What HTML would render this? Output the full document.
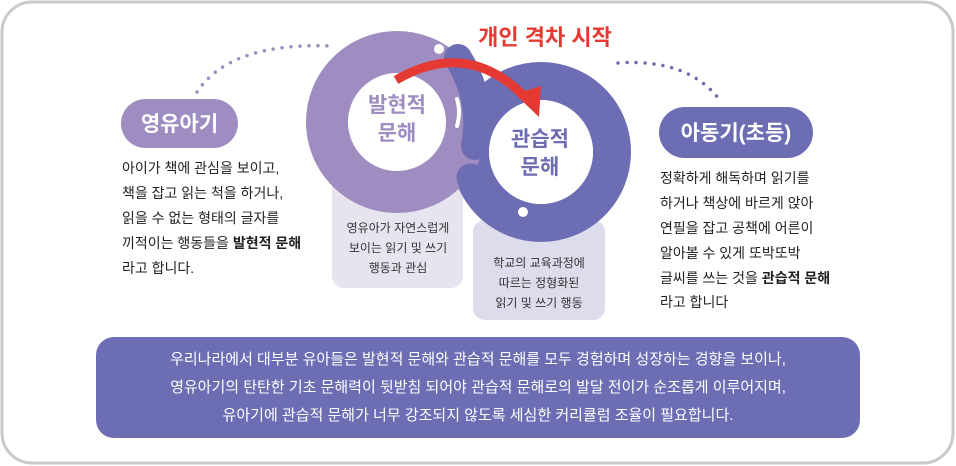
<!DOCTYPE html>
<html><head><meta charset="utf-8"><style>
body{margin:0;background:#fff;}
svg{display:block;font-family:"Liberation Sans","Noto Sans CJK KR",sans-serif;}
</style></head><body>
<svg width="956" height="466" viewBox="0 0 956 466">
<rect x="2" y="2" width="951" height="461" rx="30" fill="#fff" stroke="#c9c9c9" stroke-width="3"/>
<path d="M197 92 Q 230 42 332 46" fill="none" stroke="#9f8cc0" stroke-width="3.5" stroke-linecap="round" stroke-dasharray="0 9"/>
<path d="M618 63 Q 690 58 722 103" fill="none" stroke="#6d6db4" stroke-width="3.5" stroke-linecap="round" stroke-dasharray="0 9"/>
<rect x="332" y="170" width="131" height="118" rx="12" fill="#e7e3ef"/>
<rect x="473" y="220" width="132" height="100" rx="12" fill="#dcdcec"/>
<circle cx="541" cy="152" r="71" fill="#fff" stroke="#6d6db4" stroke-width="38"/>
<circle cx="397" cy="122" r="70" fill="#fff" stroke="#9f8cc0" stroke-width="42"/>
<path d="M458 58 Q 484 100 475 146" fill="none" stroke="#6d6db4" stroke-width="28" stroke-linecap="round"/>
<path d="M470.5 177.5 A 75 75 0 0 0 503.5 217" fill="none" stroke="#6d6db4" stroke-width="28" stroke-linecap="round"/>
<circle cx="541" cy="152" r="52" fill="#fff"/>
<circle cx="439" cy="49" r="5" fill="#fff"/>
<circle cx="523" cy="212" r="5" fill="#fff"/>
<path d="M457 99 Q 461 112 457 126" fill="none" stroke="#fff" stroke-width="4" stroke-linecap="round"/>
<path d="M396 80 Q 468 38 526 98" fill="none" stroke="#e53a33" stroke-width="9"/>
<polygon points="515,94 541,86 539,117" fill="#e53a33"/>
<text x="545" y="45" font-size="22" font-weight="bold" fill="#e53a33" text-anchor="middle">개인 격차 시작</text>
<g font-size="21" font-weight="bold" text-anchor="middle">
<text x="397" y="112" fill="#9f8cc0">발현적</text>
<text x="397" y="140" fill="#9f8cc0">문해</text>
<text x="540" y="146" fill="#6d6db4">관습적</text>
<text x="540" y="174" fill="#6d6db4">문해</text>
</g>
<g font-size="12" fill="#333" text-anchor="middle">
<text x="398" y="232">영유아가 자연스럽게</text>
<text x="398" y="252">보이는 읽기 및 쓰기</text>
<text x="398" y="272">행동과 관심</text>
<text x="539" y="267">학교의 교육과정에</text>
<text x="539" y="287">따르는 정형화된</text>
<text x="539" y="307">읽기 및 쓰기 행동</text>
</g>
<rect x="121" y="99" width="117" height="49" rx="24.5" fill="#9f8cc0"/>
<text x="179.5" y="131" font-size="21" font-weight="bold" fill="#fff" text-anchor="middle">영유아기</text>
<rect x="659" y="107" width="154" height="51" rx="25.5" fill="#6d6db4"/>
<text x="736" y="140" font-size="21" font-weight="bold" fill="#fff" text-anchor="middle">아동기(초등)</text>
<g font-size="14" fill="#222">
<text x="122" y="173">아이가 책에 관심을 보이고,</text>
<text x="122" y="198">책을 잡고 읽는 척을 하거나,</text>
<text x="122" y="223">읽을 수 없는 형태의 글자를</text>
<text x="122" y="248">끼적이는 행동들을 <tspan font-weight="bold">발현적 문해</tspan></text>
<text x="122" y="273">라고 합니다.</text>
<text x="660" y="183">정확하게 해독하며 읽기를</text>
<text x="660" y="208">하거나 책상에 바르게 앉아</text>
<text x="660" y="233">연필을 잡고 공책에 어른이</text>
<text x="660" y="258">알아볼 수 있게 또박또박</text>
<text x="660" y="283">글씨를 쓰는 것을 <tspan font-weight="bold">관습적 문해</tspan></text>
<text x="660" y="307">라고 합니다</text>
</g>
<rect x="96" y="337" width="764" height="101" rx="18" fill="#6d6db4"/>
<g font-size="15" fill="#fff" text-anchor="middle">
<text x="478" y="364">우리나라에서 대부분 유아들은 발현적 문해와 관습적 문해를 모두 경험하며 성장하는 경향을 보이나,</text>
<text x="478" y="392">영유아기의 탄탄한 기초 문해력이 뒷받침 되어야 관습적 문해로의 발달 전이가 순조롭게 이루어지며,</text>
<text x="478" y="420">유아기에 관습적 문해가 너무 강조되지 않도록 세심한 커리큘럼 조율이 필요합니다.</text>
</g>
</svg>
</body></html>
